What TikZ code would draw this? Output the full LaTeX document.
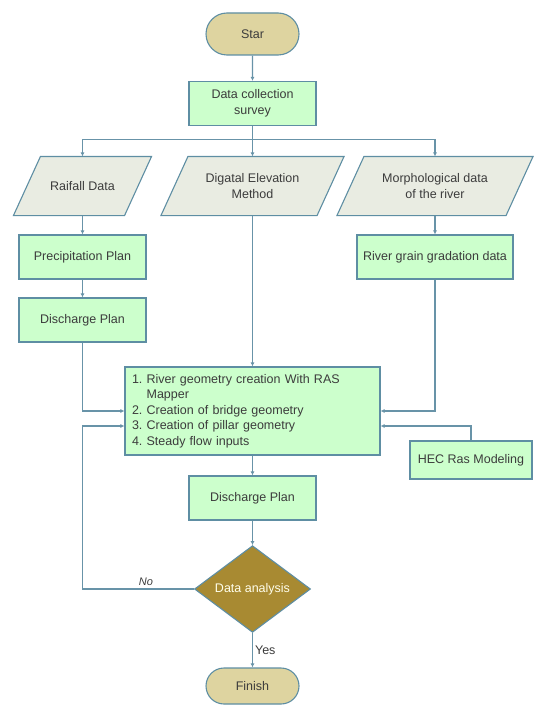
\documentclass[tikz,border=0pt]{standalone}
\usepackage{fontspec}
\setmainfont{Liberation Sans}
\usepackage{xcolor}
\usetikzlibrary{shapes.geometric,shapes.misc,arrows.meta,backgrounds}

\definecolor{linec}{HTML}{6893A8}
\definecolor{edgec}{HTML}{5E8EA3}
\definecolor{termc}{HTML}{DED4A0}
\definecolor{boxc}{HTML}{CCFFCC}
\definecolor{iofill}{HTML}{E9ECE2}
\definecolor{decc}{HTML}{A88A32}
\definecolor{txtc}{HTML}{3C3C3C}

\begin{document}
\begin{tikzpicture}[x=1pt, y=-1pt,
	every node/.style={font=\fontsize{12.5}{15.5}\selectfont\frenchspacing, text=txtc, line width=1.1pt},
	term/.style={rounded rectangle, draw=edgec, fill=termc, minimum width=93, minimum height=42, inner sep=0},
	procbox/.style={rectangle, draw=edgec, fill=boxc, minimum width=127, minimum height=44, inner sep=2pt, align=center},
	iobox/.style={rectangle, minimum height=58, inner sep=0, align=center},
	decision/.style={diamond, draw=edgec, fill=decc, minimum width=116, minimum height=86, inner sep=0, text=white!92!yellow},
	arr/.style={draw=linec, line width=1.2pt, -{Latex[length=4pt,width=4pt]}},
	lin/.style={draw=linec, line width=1.2pt}]
	\useasboundingbox (0,0) rectangle (533,706);
	\def\slant{13.5pt}
	
	% start and data collection
	\node[term] (start) at (252.5,34) {Star};
	\node[procbox] (data) at (252.5,103.5) {Data collection\\survey};
	\coordinate (split) at (252.5,139.5);
	
	% input data (body only, the slanted sides are drawn below)
	\node[iobox, minimum width=110] (rain) at (82.5,186) {Raifall Data};
	\node[iobox, minimum width=155] (dem) at (252.5,186) {Digatal Elevation\\Method};
	\node[iobox, minimum width=168] (morph) at (435,186) {Morphological data\\of the river};
	\begin{scope}[on background layer]
		\foreach \io in {rain, dem, morph} {
			\filldraw[fill=iofill, draw=edgec, line width=1.1pt]
				([xshift=-\slant]\io.south west) -- ([xshift=-\slant]\io.south east)
				-- ([xshift=\slant]\io.north east) -- ([xshift=\slant]\io.north west) -- cycle;
		}
	\end{scope}
	
	\node[procbox] (precip) at (82.5,257) {Precipitation Plan};
	\node[procbox] (disch1) at (82.5,320) {Discharge Plan};
	\node[procbox, minimum width=156] (grain) at (435,257) {River grain gradation data};
	
	% model
	\node[procbox, text width=241, minimum height=88, align=left, inner sep=7pt] (geom) at (252.5,411)
		{1. River geometry creation With RAS\\\phantom{1. }Mapper\\2. Creation of bridge geometry\\3. Creation of pillar geometry\\4. Steady flow inputs};
	\node[procbox, minimum width=122, minimum height=38] (hec) at (471,460) {HEC Ras Modeling};
	
	\node[procbox] (disch2) at (252.5,498) {Discharge Plan};
	\node[decision] (dec) at (252.5,589) {Data analysis};
	\node[term, minimum height=36] (finish) at (252.5,686) {Finish};
	
	% straight arrows
	\foreach \from/\to in {start/data, rain/precip, precip/disch1, dem/geom, morph/grain, geom/disch2, disch2/dec} {
		\draw[arr] (\from) -- (\to);
	}
	
	\draw[lin] (data) -- (split);
	\draw[arr] (split) -| (rain);
	\draw[arr] (split) -- (dem);
	\draw[arr] (split) -| (morph);
	
	\draw[arr] (disch1) |- (geom.west);
	\draw[arr] (grain) |- (geom.east);
	\draw[arr] (hec) |- ([yshift=-15pt]geom.east);
	
	% loop back
	\draw[arr] (dec.west) -- node[above, pos=0.43, font=\fontsize{11}{12}\selectfont\itshape] {No} (dec.west -| disch1.south) |- ([yshift=-15pt]geom.west);
	\draw[arr] (dec) -- node[right, pos=0.5, inner sep=2pt] {Yes} (finish);
\end{tikzpicture}
\end{document}
